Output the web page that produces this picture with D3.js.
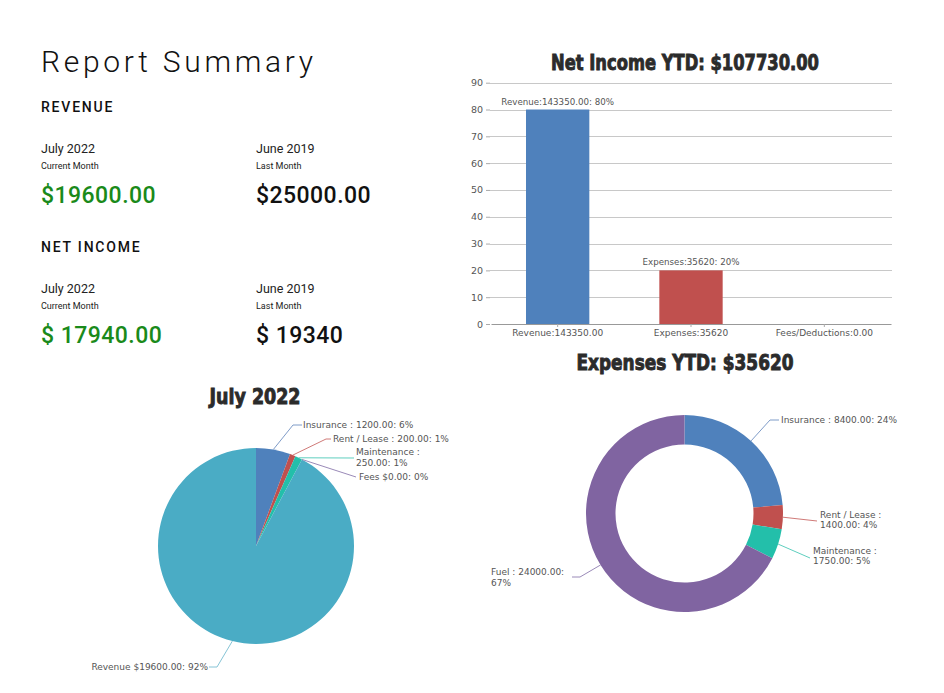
<!DOCTYPE html>
<html><head><meta charset="utf-8">
<script src="https://cdn.jsdelivr.net/npm/d3@7"></script>
<style>
html,body{margin:0;padding:0;background:#fff;}
svg{display:block;}
</style></head>
<body>
<script>
// ---------- data ----------
const summaryMonths = ["July 2022", "June 2019"];
const summarySubs = ["Current Month", "Last Month"];
const revenueValues = ["$19600.00", "$25000.00"];
const netIncomeValues = ["$ 17940.00", "$ 19340"];

const barTitle = "Net Income YTD: $107730.00";
const barCategories = ["Revenue:143350.00", "Expenses:35620", "Fees/Deductions:0.00"];
const barValues = [80, 20, 0];
const barLabels = ["Revenue:143350.00: 80%", "Expenses:35620: 20%", ""];
const barYTicks = [0, 10, 20, 30, 40, 50, 60, 70, 80, 90];

const pieTitle = "July 2022";
const pieNames = ["Insurance : 1200.00", "Rent / Lease : 200.00", "Maintenance : 250.00", "Fees $0.00", "Revenue $19600.00"];
const pieValues = [1200, 200, 250, 0, 19600];

const donutTitle = "Expenses YTD: $35620";
const donutTotal = 35620;
const donutNames = ["Insurance : 8400.00", "Rent / Lease : 1400.00", "Maintenance : 1750.00", "Fuel : 24000.00"];
const donutValues = [8400, 1400, 1750, 24000];

// ---------- setup ----------
const W = 944, H = 693;
const svg = d3.select("body").append("svg").attr("width", W).attr("height", H);
svg.append("rect").attr("width", W).attr("height", H).attr("fill", "#fff");

const C = {blue:"#4f81bc", red:"#c0504e", teal:"#23bfaa", purple:"#8064a1", cyan:"#4aacc5"};
const titleFont = "Impact, 'Liberation Sans Narrow', 'DejaVu Sans Condensed', sans-serif";
const labFont = "'DejaVu Sans', Verdana, sans-serif";
const green = "#1a8a1a";

function title(x0, y0, len, txt) {
  svg.append("text").attr("x", x0).attr("y", y0).attr("text-anchor", "middle")
    .attr("font-family", titleFont).attr("font-weight", "bold").attr("font-size", 22)
    .attr("textLength", len).attr("lengthAdjust", "spacingAndGlyphs")
    .attr("fill", "#2b2b2b").attr("stroke", "#2b2b2b").attr("stroke-width", 0.9).text(txt);
}

// ---------- left summary ----------
const L = svg.append("g").attr("font-family", "Roboto, sans-serif");
L.append("text").attr("x", 41).attr("y", 72).attr("font-size", 30).attr("font-weight", 300)
  .attr("letter-spacing", 3.7).attr("fill", "#111").text("Report Summary");

function block(y0, heading, values) {
  L.append("text").attr("x", 41).attr("y", y0).attr("font-size", 14).attr("font-weight", 500)
    .attr("letter-spacing", 1.8).attr("fill", "#111").text(heading);
  [41, 256].forEach((x, i) => {
    L.append("text").attr("x", x).attr("y", y0 + 40.5).attr("font-size", 12.5).attr("fill", "#222").text(summaryMonths[i]);
    L.append("text").attr("x", x).attr("y", y0 + 57).attr("font-size", 9).attr("fill", "#222").text(summarySubs[i]);
    L.append("text").attr("x", x).attr("y", y0 + 91).attr("font-size", 23).attr("font-weight", 500)
      .attr("letter-spacing", 0.45).attr("fill", i === 0 ? green : "#111").text(values[i]);
  });
}
block(112, "REVENUE", revenueValues);
block(252, "NET INCOME", netIncomeValues);

// ---------- bar chart ----------
const x = d3.scaleBand().domain(barCategories).range([491, 891]).paddingInner(0.525).paddingOuter(0.2625);
const y = d3.scaleLinear().domain([0, 90]).range([324, 82.7]);
const B = svg.append("g");
title(685, 69.5, 268, barTitle);

B.selectAll("line.grid").data(barYTicks.slice(1)).join("line")
  .attr("x1", 490).attr("x2", 892).attr("y1", d => Math.round(y(d)) + 0.5).attr("y2", d => Math.round(y(d)) + 0.5)
  .attr("stroke", "#c8c8c8").attr("stroke-width", 1);

const yAxis = B.append("g").attr("transform", "translate(490,0)")
  .call(d3.axisLeft(y).tickValues(barYTicks).tickSize(4).tickPadding(3));
yAxis.select(".domain").remove();
yAxis.selectAll("line").attr("stroke", "#aaa");
yAxis.selectAll("text").attr("font-family", labFont).attr("font-size", 9.5).attr("fill", "#555");

B.selectAll("rect.bar").data(barValues).join("rect")
  .attr("x", (d, i) => x(barCategories[i])).attr("width", x.bandwidth())
  .attr("y", d => y(d)).attr("height", d => y(0) - y(d))
  .attr("fill", (d, i) => [C.blue, C.red, C.teal][i]);

B.selectAll("text.bl").data(barLabels).join("text")
  .attr("x", (d, i) => x(barCategories[i]) + x.bandwidth() / 2)
  .attr("y", (d, i) => y(barValues[i]) - 5)
  .attr("text-anchor", "middle").attr("font-family", labFont).attr("font-size", 8.7).attr("fill", "#555").text(d => d);

const xAxis = B.append("g").attr("transform", `translate(0,${y(0)})`)
  .call(d3.axisBottom(x).tickSize(3).tickPadding(3).tickSizeOuter(0));
xAxis.select(".domain").attr("stroke", "#999");
xAxis.selectAll("line").attr("stroke", "#aaa");
xAxis.selectAll("text").attr("font-family", labFont).attr("font-size", 9).attr("fill", "#555");

// ---------- pie helpers ----------
function drawPie(cx, cy, r, ir, names, values, colors, lineColors, pctFn, layout) {
  const g = svg.append("g");
  const pie = d3.pie().sort(null).value(d => d)(values);
  const arc = d3.arc().innerRadius(ir).outerRadius(r);
  g.append("g").attr("transform", `translate(${cx},${cy})`)
    .selectAll("path").data(pie).join("path").attr("d", arc).attr("fill", (d, i) => colors[i]);
  pie.forEach((p, i) => {
    const lay = layout[i];
    const a = (p.startAngle + p.endAngle) / 2;
    const sx = cx + r * Math.sin(a), sy = cy - r * Math.cos(a);
    const pts = [[sx, sy]].concat(lay.pts);
    g.append("path").attr("d", d3.line()(pts)).attr("fill", "none")
      .attr("stroke", lineColors[i]).attr("stroke-width", 1);
    const lines = lay.lines(names[i], pctFn(values[i]));
    const t = g.append("text").attr("font-family", labFont).attr("font-size", 9).attr("fill", "#555")
      .attr("text-anchor", lay.anchor || "start");
    lines.forEach((ln, k) => {
      t.append("tspan").attr("x", lay.tx).attr("y", lay.ty + k * 10.8).text(ln);
    });
  });
}
const one = (n, p) => [`${n}: ${p}%`];
function two(n, p) { const k = n.indexOf(":"); return [n.slice(0, k + 1), `${n.slice(k + 1).trim()}: ${p}%`]; }

// ---------- pie: July 2022 ----------
title(255, 403.5, 91, pieTitle);
const pieSum = d3.sum(pieValues);
drawPie(256, 546, 98, 0, pieNames, pieValues,
  [C.blue, C.red, C.teal, C.purple, C.cyan],
  ["#7f9cc8", "#d07a78", "#5fcfbf", "#9a8ab8", "#86c4d6"],
  v => Math.round(v / pieSum * 100),
  [
    {pts: [[293, 425], [302, 425]], tx: 303, ty: 428, lines: one},
    {pts: [[326, 439], [331, 439]], tx: 333, ty: 441.5, lines: one},
    {pts: [[354, 458]], tx: 356, ty: 455, lines: two},
    {pts: [[356, 477]], tx: 359, ty: 480, lines: one},
    {pts: [[217, 667], [209, 667]], tx: 208, ty: 669.5, anchor: "end", lines: (n, p) => [`${n}: ${p}%`]}
  ]);

// ---------- donut: Expenses YTD ----------
title(685, 370, 217, donutTitle);
drawPie(684.5, 513.5, 98.5, 69, donutNames, donutValues,
  [C.blue, C.red, C.teal, C.purple],
  ["#7f9cc8", "#d07a78", "#5fcfbf", "#9a8ab8"],
  v => Math.round(v / donutTotal * 100),
  [
    {pts: [[770, 420], [779, 420]], tx: 781, ty: 423, lines: one},
    {pts: [[817, 521]], tx: 820, ty: 517.5, lines: two},
    {pts: [[810, 558]], tx: 813, ty: 553.5, lines: two},
    {pts: [[580, 577], [572, 577]], tx: 491, ty: 575, lines: (n, p) => [`${n}:`, `${p}%`]}
  ]);
</script>
</body></html>
